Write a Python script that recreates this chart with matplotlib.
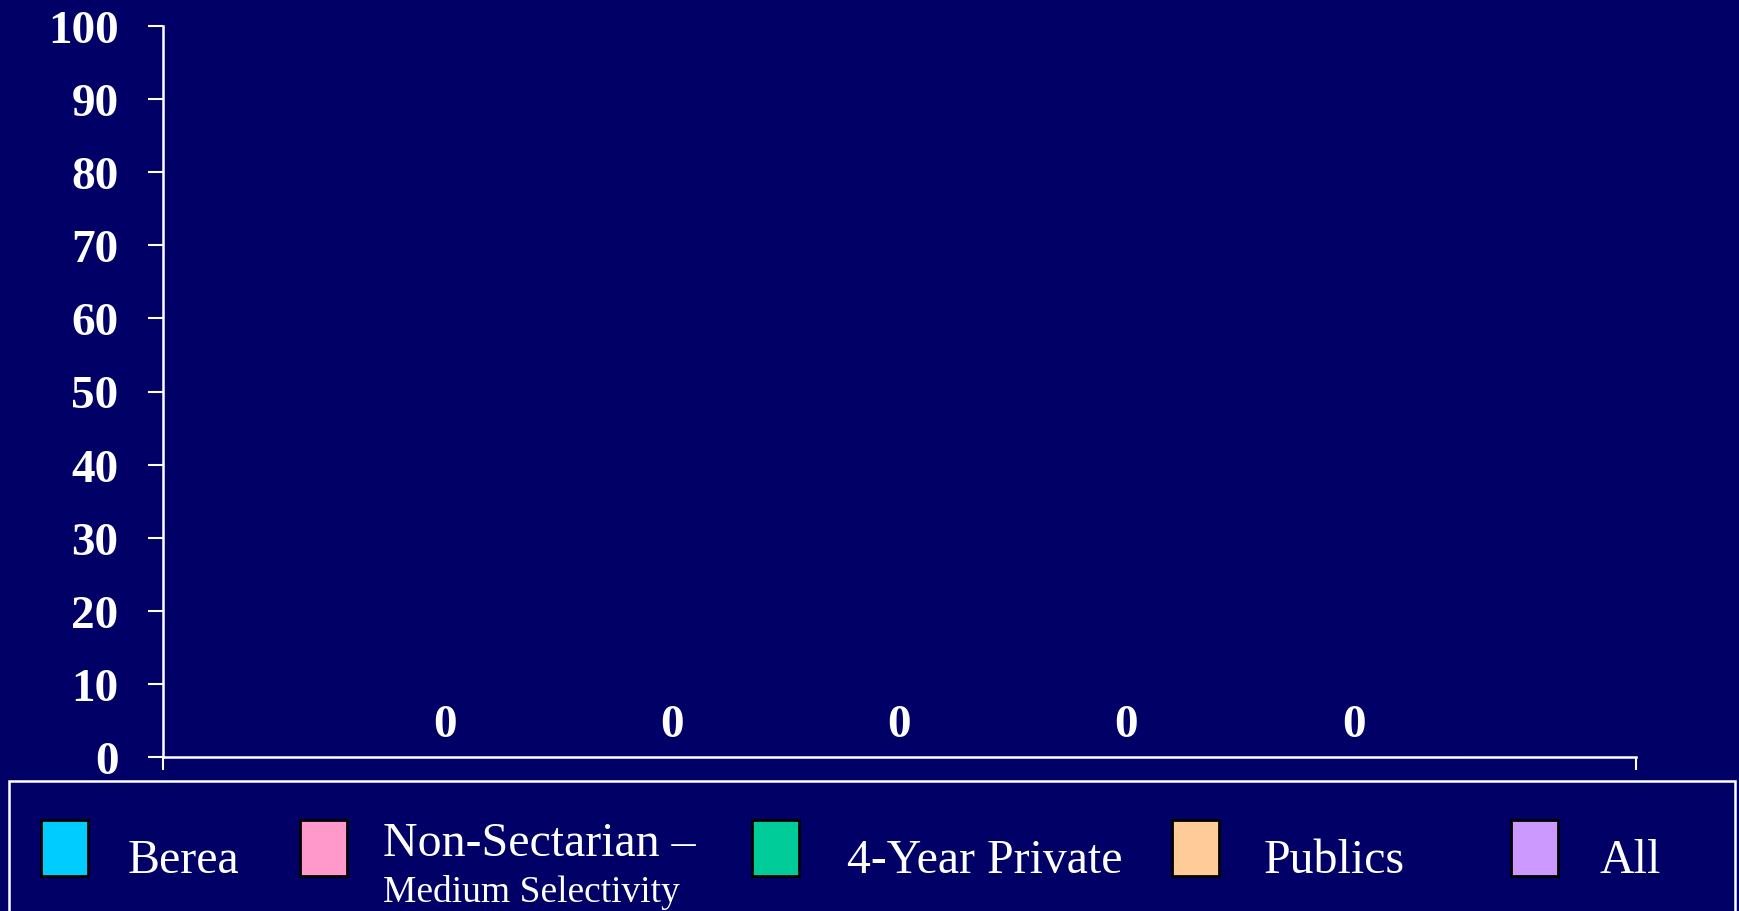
import matplotlib.pyplot as plt
from matplotlib.patches import Rectangle

# chart data
groups = ["Berea", "Non-Sectarian \u2013", "4-Year Private", "Publics", "All"]
values = [0, 0, 0, 0, 0]
colors = ["#00CCFF", "#FF99CC", "#00CC99", "#FFCC99", "#CC99FF"]
y_ticks = [0, 10, 20, 30, 40, 50, 60, 70, 80, 90, 100]

W, H = 1740, 912
BG = "#000066"

plt.rcParams['font.family'] = ['Liberation Serif', 'DejaVu Serif']

fig = plt.figure(figsize=(W / 100, H / 100), dpi=100, facecolor=BG)


# pixel (from top-left) -> figure fraction
def px(x, y):
    return x / W, 1 - y / H


left, top = px(163, 27)
right, bottom = px(1636, 758)
ax = fig.add_axes([left, bottom, right - left, top - bottom], facecolor=BG)

# one category group, five bars side by side
bw = 227 / 1473
offsets = [(i - 2) * bw for i in range(len(values))]
bars = ax.bar(offsets, values, width=bw, color=colors, edgecolor="black")
ax.bar_label(bars, labels=[str(v) for v in values], padding=8,
             color="white", fontsize=34, fontweight="bold")

ax.set_xlim(-0.5, 0.5)
ax.set_ylim(0, 100)
ax.set_yticks(y_ticks)
ax.set_yticklabels([str(t) for t in y_ticks], color="white", fontsize=34,
                   fontweight="bold")
ax.set_xticks([-0.5, 0.5])
ax.set_xticklabels([])
ax.tick_params(axis="y", direction="out", length=11, width=1.5, color="white", pad=21)
ax.tick_params(axis="x", direction="out", length=9, width=1.5, color="white")
for side in ["top", "right"]:
    ax.spines[side].set_visible(False)
for side in ["left", "bottom"]:
    ax.spines[side].set_color("white")
    ax.spines[side].set_linewidth(1.8)

# legend frame
x0, y0 = px(9, 782)
fig.patches.append(Rectangle((x0, -0.05), (1735 - 9) / W, y0 + 0.05,
                             transform=fig.transFigure, facecolor="none",
                             edgecolor="white", linewidth=1.8))

sq_x = [41, 300, 752, 1172, 1511]
txt_x = [128, 383, 847, 1264, 1600]
for i, name in enumerate(groups):
    sx, sy = px(sq_x[i], 877)
    fig.patches.append(Rectangle((sx, sy), 47 / W, 56 / H,
                                 transform=fig.transFigure, facecolor=colors[i],
                                 edgecolor="black", linewidth=2))
    if i == 1:
        tx, ty = px(txt_x[i], 856)
        fig.text(tx, ty, name, color="white", fontsize=34.5, va="baseline")
        tx, ty = px(txt_x[i], 902)
        fig.text(tx, ty, "Medium Selectivity", color="white", fontsize=27, va="baseline")
    else:
        tx, ty = px(txt_x[i], 873)
        fig.text(tx, ty, name, color="white", fontsize=34.5, va="baseline")

fig.savefig("out.png", dpi=100, facecolor=BG)
